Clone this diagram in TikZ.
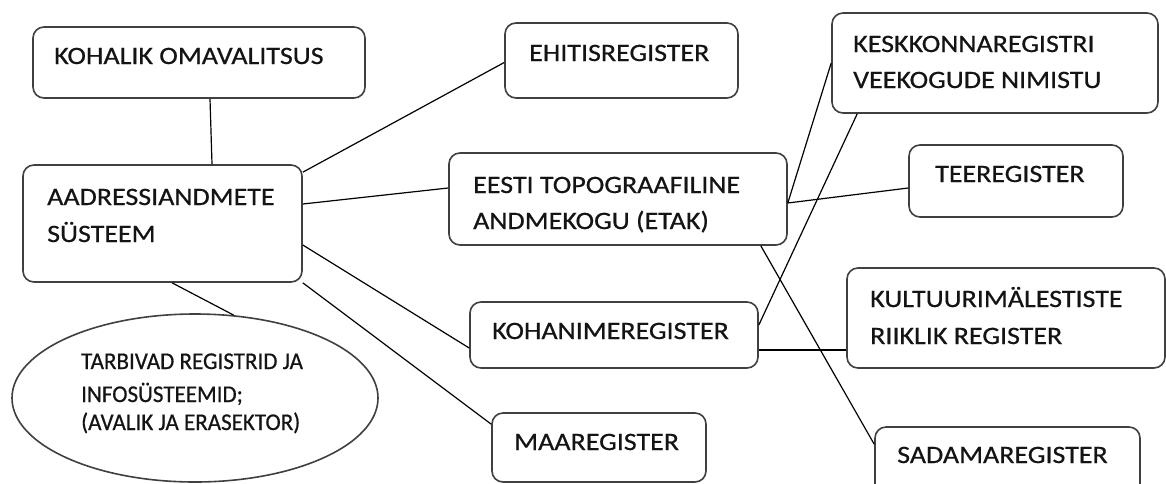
\documentclass[tikz,border=0pt]{standalone}
\usepackage{fontspec}
\setmainfont{Carlito}
\newfontfamily\boxfont[FakeStretch=1.12,FakeBold=0.6]{Carlito}
\newfontfamily\ellfont[FakeStretch=0.96,FakeBold=0.6]{Carlito}
\usetikzlibrary{shapes.geometric}
\begin{document}
\begin{tikzpicture}[x=1pt,y=-1pt,
  box/.style={draw=black!75, line width=1.6pt, rounded corners=11pt, fill=white, inner sep=0pt},
  oval/.style={draw=black!75, line width=1.6pt, ellipse, fill=white, inner sep=0pt},
  lbl/.style={anchor=base west, inner sep=0pt, font=\boxfont\fontsize{25}{30}\selectfont, text=black!92},
  elbl/.style={anchor=base west, inner sep=0pt, font=\ellfont\fontsize{24}{29}\selectfont, text=black!92},
  link/.style={line width=1.2pt, black}]
\useasboundingbox (0,0) rectangle (1166,483);
\clip (0,0) rectangle (1166,483);
\fill[white] (0,0) rectangle (1166,483);

% boxes
\node[box, minimum width=332pt, minimum height=71pt] (kohalik) at (199,62.5) {};
\node[box, minimum width=279pt, minimum height=117pt] (aadress) at (162.5,223.5) {};
\node[box, minimum width=233pt, minimum height=75pt] (ehitis) at (621.5,60.5) {};
\node[box, minimum width=338pt, minimum height=92pt] (etak) at (618,199) {};
\node[box, minimum width=326pt, minimum height=100pt] (kesk) at (995,63) {};
\node[box, minimum width=214pt, minimum height=72pt] (tee) at (1016,181) {};
\node[box, minimum width=288pt, minimum height=66pt] (kohanime) at (614,335) {};
\node[box, minimum width=214pt, minimum height=69pt] (maa) at (599,447.5) {};
\node[box, minimum width=318pt, minimum height=100pt] (kultuur) at (1006,318) {};
\node[box, minimum width=265pt, minimum height=76pt] (sadama) at (1007.5,465) {};
\node[oval, minimum width=366pt, minimum height=168pt] (tarb) at (195,398) {};

% texts
\node[lbl] (t1) at (54,64) {KOHALIK OMAVALITSUS};
\node[lbl] (t2a) at (47,205) {AADRESSIANDMETE};
\node[lbl] (t2b) at (47,242) {SÜSTEEM};
\node[lbl] (t3) at (529,61) {EHITISREGISTER};
\node[lbl] (t4a) at (473,193) {EESTI TOPOGRAAFILINE};
\node[lbl] (t4b) at (473,229) {ANDMEKOGU (ETAK)};
\node[lbl] (t5a) at (853,52) {KESKKONNAREGISTRI};
\node[lbl] (t5b) at (853,88) {VEEKOGUDE NIMISTU};
\node[lbl] (t6) at (935,182) {TEEREGISTER};
\node[lbl] (t7) at (492,339) {KOHANIMEREGISTER};
\node[lbl] (t8) at (514,450) {MAAREGISTER};
\node[lbl] (t9a) at (870,307) {KULTUURIMÄLESTISTE};
\node[lbl] (t9b) at (870,344) {RIIKLIK REGISTER};
\node[lbl] (t10) at (897,463) {SADAMAREGISTER};
\node[elbl] (t11a) at (81,369) {TARBIVAD REGISTRID JA};
\node[elbl] (t11b) at (81,402) {INFOSÜSTEEMID;};
\node[elbl] (t11c) at (81,430) {(AVALIK JA ERASEKTOR)};

% connectors
\draw[link] ([xshift=11pt]kohalik.south) -- ([xshift=49.5pt]aadress.north);
\draw[link] ([yshift=-8pt]aadress.north east) -- ([yshift=-2pt]ehitis.west);
\draw[link] ([yshift=19.5pt]aadress.east) -- ([yshift=11pt]etak.west);
\draw[link] ([yshift=-21.5pt]aadress.east) -- ([yshift=-13pt]kohanime.west);
\draw[link] (aadress.south east) -- ([yshift=-12pt]maa.north west);
\draw[link] ([xshift=9.5pt]aadress.south) -- (tarb.65);
\draw[link] ([yshift=-4pt]etak.east) -- (kesk.west);
\draw[link] ([yshift=-4pt]etak.east) -- ([yshift=-7pt]tee.west);
\draw[link] ([yshift=10pt]kohanime.east) -- ([xshift=26pt]kesk.south west);
\draw[link] ([xshift=-27pt]etak.south east) -- ([yshift=-18pt]sadama.north west);
\draw[link] ([yshift=-15pt]kohanime.east) -- ([yshift=-32pt]kultuur.west);
\end{tikzpicture}
\end{document}
